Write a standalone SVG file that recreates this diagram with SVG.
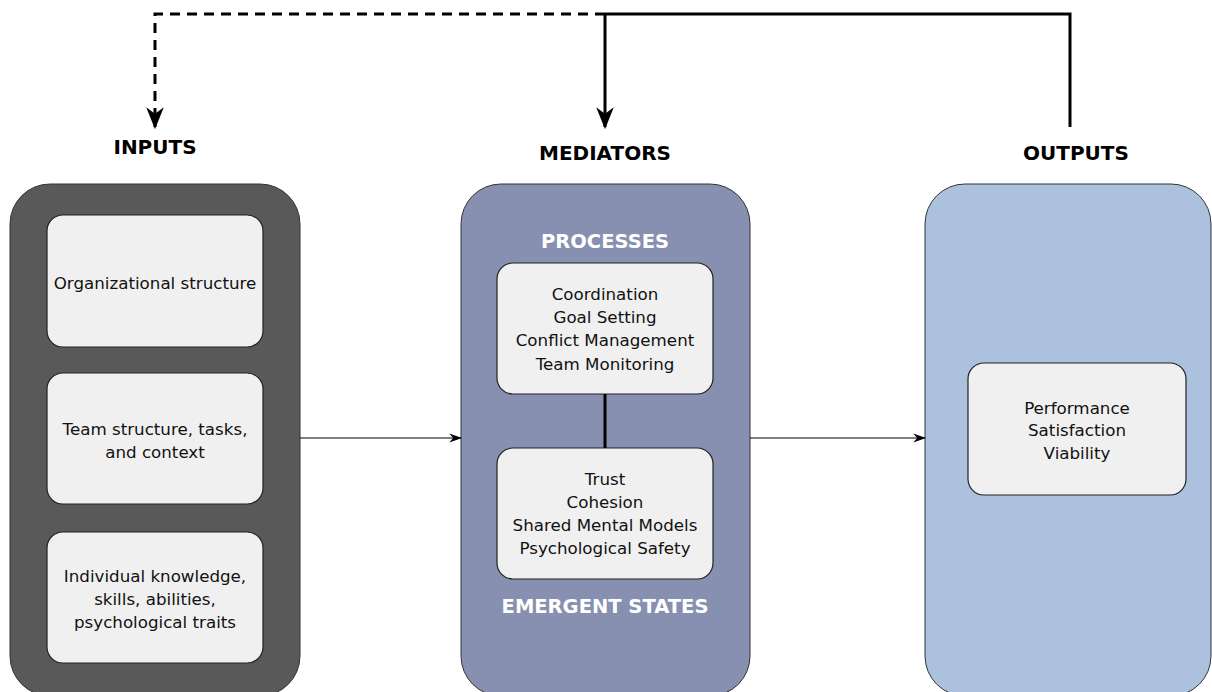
<svg xmlns="http://www.w3.org/2000/svg" width="1212" height="692" viewBox="0 0 1212 692">
<defs>
<style>
.outer{stroke:#333;stroke-width:1}
.inner{fill:#f0f0f0;stroke:#222;stroke-width:1.2}
.t{font-family:"DejaVu Sans",Verdana,sans-serif;font-size:16.7px;fill:#111;text-anchor:middle}
.h{font-family:"DejaVu Sans",Verdana,sans-serif;font-size:20px;font-weight:bold;fill:#000;text-anchor:middle}
.w{font-family:"DejaVu Sans",Verdana,sans-serif;font-size:19.5px;font-weight:bold;fill:#fff;text-anchor:middle}
</style>
<marker id="bigm" viewBox="0 0 10 10" refX="9" refY="5" markerWidth="22" markerHeight="22" markerUnits="userSpaceOnUse" orient="auto">
<path d="M0,1 L10,5 L0,9 L3,5 Z" fill="#000"/>
</marker>
<marker id="sm" viewBox="0 0 10 10" refX="9" refY="5" markerWidth="13" markerHeight="13" markerUnits="userSpaceOnUse" orient="auto">
<path d="M0,1.5 L10,5 L0,8.5 L3,5 Z" fill="#000"/>
</marker>
</defs>
<rect width="1212" height="692" fill="#fff"/>

<g id="inputs">
<rect class="outer" x="10" y="184" width="290" height="512" rx="40" fill="#595959"/>
<text class="h" x="155" y="154">INPUTS</text>
</g>
<g id="org">
<rect class="inner" x="47" y="215" width="216" height="132" rx="16"/>
<text class="t" x="155" y="289">Organizational structure</text>
</g>
<g id="team">
<rect class="inner" x="47" y="373" width="216" height="131" rx="16"/>
<text class="t" x="155" y="435">Team structure, tasks,</text>
<text class="t" x="155" y="458">and context</text>
</g>
<g id="indiv">
<rect class="inner" x="47" y="532" width="216" height="131" rx="16"/>
<text class="t" x="155" y="582">Individual knowledge,</text>
<text class="t" x="155" y="605">skills, abilities,</text>
<text class="t" x="155" y="628">psychological traits</text>
</g>

<g id="mediators">
<rect class="outer" x="461" y="184" width="289" height="512" rx="40" fill="#8790b0"/>
<text class="h" x="605" y="160">MEDIATORS</text>
<text class="w" x="605" y="248">PROCESSES</text>
<text class="w" x="605" y="613">EMERGENT STATES</text>
</g>
<g id="processes">
<rect class="inner" x="497" y="263" width="216" height="131" rx="16"/>
<text class="t" x="605" y="300">Coordination</text>
<text class="t" x="605" y="323">Goal Setting</text>
<text class="t" x="605" y="346">Conflict Management</text>
<text class="t" x="605" y="370">Team Monitoring</text>
</g>
<g id="states">
<rect class="inner" x="497" y="448" width="216" height="131" rx="16"/>
<text class="t" x="605" y="485">Trust</text>
<text class="t" x="605" y="508">Cohesion</text>
<text class="t" x="605" y="531">Shared Mental Models</text>
<text class="t" x="605" y="554">Psychological Safety</text>
</g>

<g id="outputs">
<rect class="outer" x="925" y="184" width="286" height="512" rx="40" fill="#abc1de"/>
<text class="h" x="1076" y="160">OUTPUTS</text>
</g>
<g id="results">
<rect class="inner" x="968" y="363" width="218" height="132" rx="16"/>
<text class="t" x="1077" y="414">Performance</text>
<text class="t" x="1077" y="436">Satisfaction</text>
<text class="t" x="1077" y="459">Viability</text>
</g>

<g id="connectors" fill="none" stroke="#000">
<line x1="605" y1="394" x2="605" y2="448" stroke-width="3"/>
<line x1="300" y1="438" x2="461" y2="438" stroke-width="1" marker-end="url(#sm)"/>
<line x1="750" y1="438" x2="925" y2="438" stroke-width="1" marker-end="url(#sm)"/>
<polyline points="1070,127 1070,14 605,14" stroke-width="3"/>
<line x1="605" y1="14" x2="605" y2="127" stroke-width="3" marker-end="url(#bigm)"/>
<polyline points="605,14 155,14 155,127" stroke-width="3" stroke-dasharray="10,7" marker-end="url(#bigm)"/>
</g>
</svg>
